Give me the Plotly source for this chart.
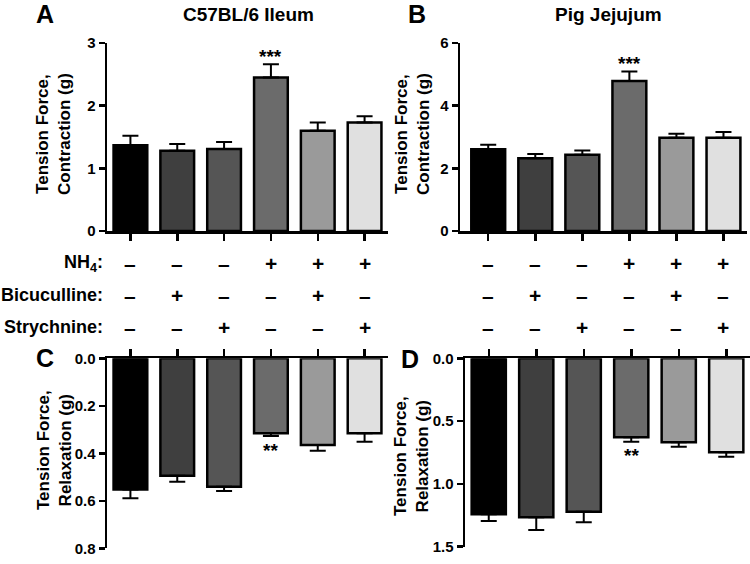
import plotly.graph_objects as go

# ---------------- data ----------------
groups = ["Ctrl", "Bic", "Str", "NH4", "NH4+Bic", "NH4+Str"]
colors = ["#000000", "#3f3f3f", "#555555", "#6b6b6b", "#9a9a9a", "#e0e0e0"]

a_mean = [1.37, 1.28, 1.31, 2.45, 1.60, 1.73]
a_sem = [0.15, 0.11, 0.11, 0.21, 0.13, 0.10]
b_mean = [2.61, 2.32, 2.43, 4.79, 2.98, 2.98]
b_sem = [0.14, 0.14, 0.14, 0.30, 0.12, 0.18]
c_mean = [0.552, 0.494, 0.541, 0.316, 0.365, 0.316]
c_sem = [0.037, 0.026, 0.018, 0.011, 0.024, 0.035]
d_mean = [1.242, 1.266, 1.221, 0.629, 0.669, 0.748]
d_sem = [0.053, 0.101, 0.085, 0.035, 0.035, 0.035]

nh4 = ["–", "–", "–", "+", "+", "+"]
bicuculline = ["–", "+", "–", "–", "+", "–"]
strychnine = ["–", "–", "+", "–", "–", "+"]
row_labels = ["NH<sub>4</sub>:", "Bicuculline:", "Strychnine:"]

sig_a = {3: "***"}
sig_b = {3: "***"}
sig_c = {3: "**"}
sig_d = {3: "**"}

titles = ["C57BL/6 Ileum", "Pig Jejujum"]
letters = ["A", "B", "C", "D"]
ytitle_top = "Tension Force,<br>Contraction (g)"
ytitle_bot = "Tension Force,<br>Relaxation (g)"

# ---------------- figure ----------------
W, H = 750, 564
FONT = "Liberation Sans, Arial, Helvetica, sans-serif"


def px_x(p):
    return p / W


def px_y(p):
    return 1 - p / H


fig = go.Figure()

panels = [
    ("x", "y", a_mean, a_sem),
    ("x2", "y2", b_mean, b_sem),
    ("x3", "y3", c_mean, c_sem),
    ("x4", "y4", d_mean, d_sem),
]
for xr, yr, m, s in panels:
    fig.add_trace(go.Bar(
        x=groups, y=m, xaxis=xr, yaxis=yr,
        marker=dict(color=colors, line=dict(color="black", width=2.5)),
        error_y=dict(type="data", array=s, arrayminus=[0] * len(s), symmetric=False,
                     color="black", thickness=2, width=8),
        width=0.72, showlegend=False, hoverinfo="skip",
    ))

tickfont = dict(family=FONT, size=15, color="black", weight="bold")
common_x = dict(type="category", categoryarray=groups, showline=True, linewidth=2.5,
                linecolor="black", ticks="outside", ticklen=7, tickwidth=2.5,
                tickcolor="black", showticklabels=False, showgrid=False,
                zeroline=False, fixedrange=True, automargin=False)
common_y = dict(showline=True, linewidth=2.5, linecolor="black", ticks="outside",
                ticklen=6, tickwidth=2.5, tickcolor="black", tickfont=tickfont,
                showgrid=False, zeroline=False, fixedrange=True, automargin=False)

top_y = [px_y(231), px_y(43)]
fig.update_layout(
    xaxis=dict(common_x, domain=[px_x(107), px_x(388)], anchor="y", range=[-0.5, 5.5]),
    yaxis=dict(common_y, domain=top_y, anchor="x", range=[0, 3], tickvals=[0, 1, 2, 3]),
    xaxis2=dict(common_x, domain=[px_x(460), px_x(747)], anchor="y2", range=[-0.6, 5.5]),
    yaxis2=dict(common_y, domain=top_y, anchor="x2", range=[0, 6], tickvals=[0, 2, 4, 6]),
    xaxis3=dict(common_x, domain=[px_x(107), px_x(388)], anchor="y3", side="top",
                range=[-0.5, 5.5]),
    yaxis3=dict(common_y, domain=[px_y(548.3), px_y(358.3)], anchor="x3",
                range=[0.8, 0], tickvals=[0, 0.2, 0.4, 0.6, 0.8], tickformat=".1f"),
    xaxis4=dict(common_x, domain=[px_x(465), px_x(750)], anchor="y4", side="top",
                range=[-0.5, 5.5]),
    yaxis4=dict(common_y, domain=[px_y(546.7), px_y(358.3)], anchor="x4",
                range=[1.5, 0], tickvals=[0, 0.5, 1.0, 1.5], tickformat=".1f"),
    width=W, height=H,
    margin=dict(l=0, r=0, t=0, b=0),
    paper_bgcolor="white", plot_bgcolor="white",
    bargap=0.28,
)

ann = []
bold = lambda size: dict(family=FONT, size=size, color="black", weight="bold")

# panel letters
for letter, (lx, ly) in zip(letters, [(45, 14), (417, 14), (45, 358), (410, 359)]):
    ann.append(dict(text=letter, x=px_x(lx), y=px_y(ly), xref="paper", yref="paper",
                    xanchor="center", yanchor="middle", showarrow=False, font=bold(25)))

# titles
for t, (tx, ty) in zip(titles, [(248, 15), (608, 15)]):
    ann.append(dict(text=t, x=px_x(tx), y=px_y(ty), xref="paper", yref="paper",
                    xanchor="center", yanchor="middle", showarrow=False, font=bold(19)))

# y-axis titles
for t, (tx, ty) in zip([ytitle_top, ytitle_top, ytitle_bot, ytitle_bot],
                       [(54, 134), (413, 134), (54, 450), (412, 456)]):
    ann.append(dict(text=t, x=px_x(tx), y=px_y(ty), xref="paper", yref="paper",
                    xanchor="center", yanchor="middle", textangle=-90, showarrow=False,
                    font=bold(17)))

# treatment table
rows = [nh4, bicuculline, strychnine]
row_y = [263, 295, 327]
for lab, vals, ry in zip(row_labels, rows, row_y):
    ann.append(dict(text=lab, x=px_x(105), y=px_y(ry), xref="paper", yref="paper",
                    xanchor="right", yanchor="middle", showarrow=False, font=bold(18)))
    for xr in ["x", "x2"]:
        for g, v in zip(groups, vals):
            ann.append(dict(text=v, x=g, y=px_y(ry), xref=xr, yref="paper",
                            xanchor="center", yanchor="middle", showarrow=False,
                            font=bold(21)))

# significance marks
for (xr, yr, m, s), sig, shift in zip(panels, [sig_a, sig_b, sig_c, sig_d],
                                      [8, 8, -15, -14]):
    for i, txt in sig.items():
        ann.append(dict(text=txt, x=groups[i], y=m[i] + s[i], xref=xr, yref=yr,
                        xanchor="center", yanchor="middle", yshift=shift,
                        showarrow=False, font=bold(19)))

fig.update_layout(annotations=ann)
fig.write_html("out.html",
               config={"displayModeBar": False, "staticPlot": True},
               post_script="document.body.style.margin='0';"
                           "document.body.style.overflow='hidden';")
